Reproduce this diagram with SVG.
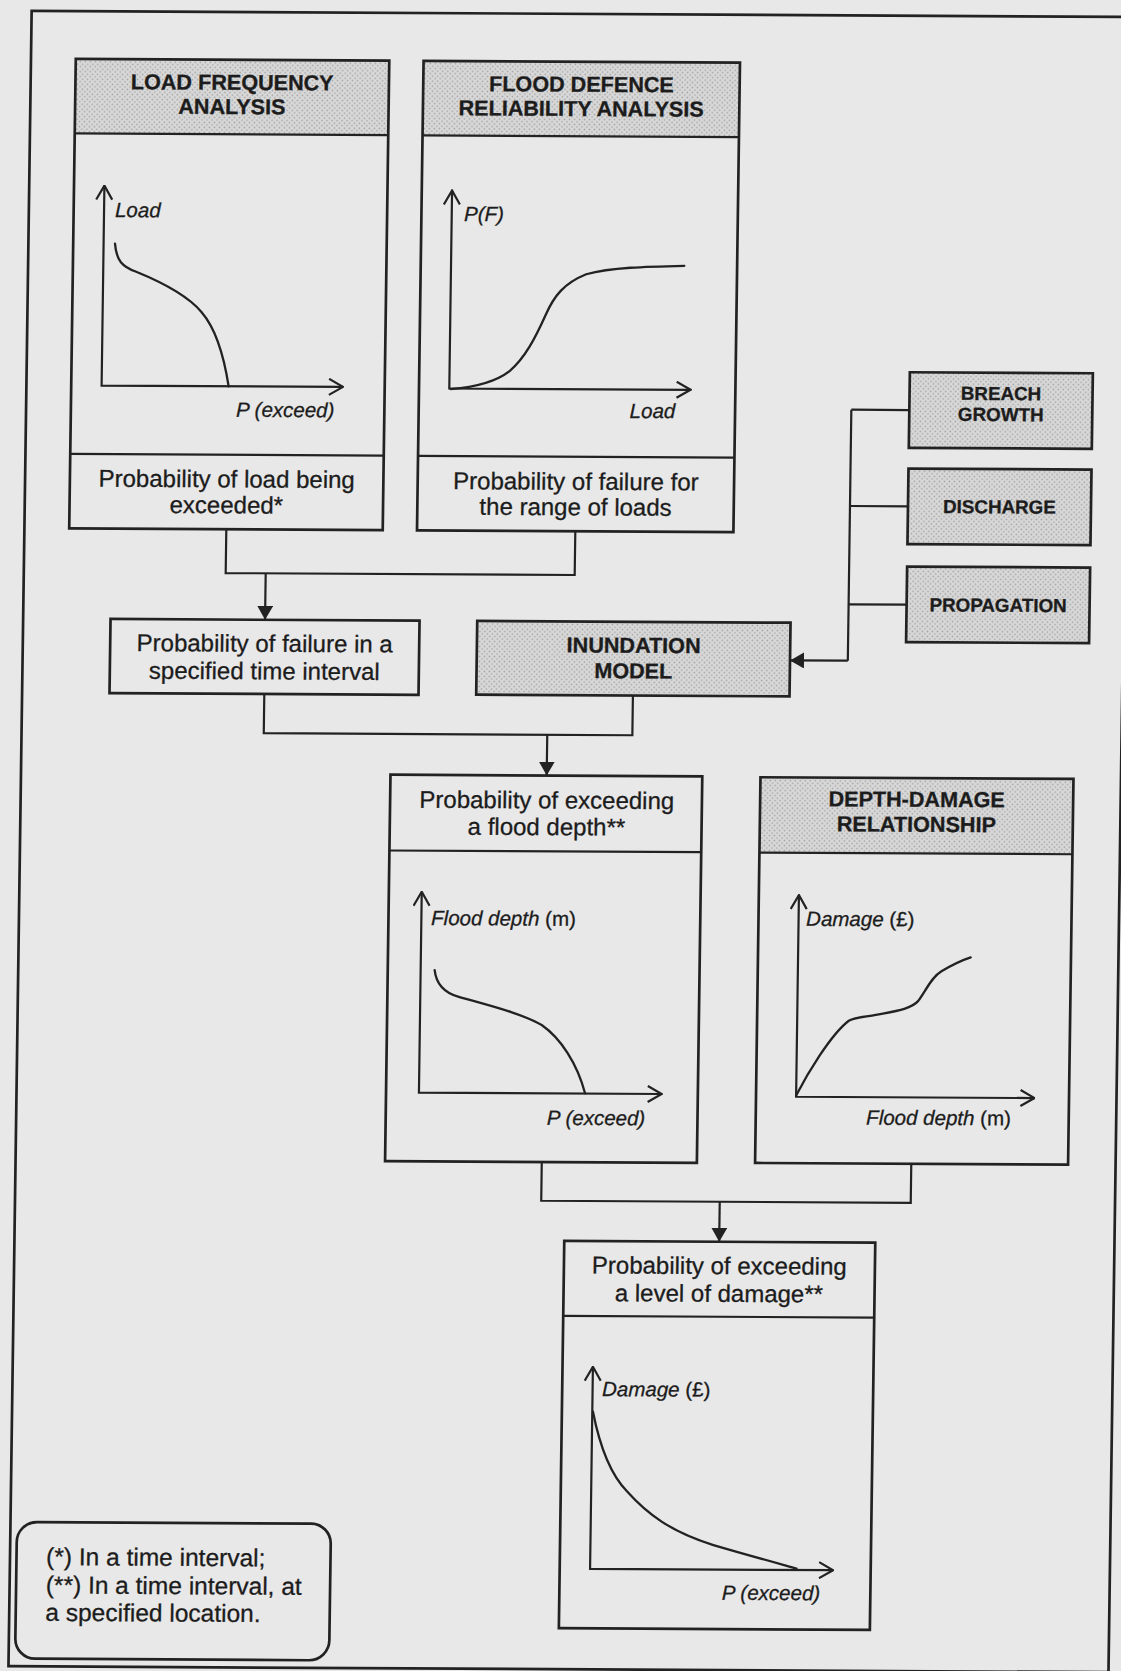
<svg xmlns="http://www.w3.org/2000/svg" width="1121" height="1671" viewBox="0 0 1121 1671">
  <defs>
    <style>
      .box { fill: none; stroke: #222; stroke-width: 2.7; }
      .hdr { fill: url(#stipple); stroke: none; }
      .ln { fill: none; stroke: #222; stroke-width: 2.2; }
      .crv { fill: none; stroke: #222; stroke-width: 2.3; stroke-linecap: round; }
      .t { font-family: "Liberation Sans", Arial, sans-serif; fill: #1c1c1c; stroke: #1c1c1c; stroke-width: 0.3; }
      .h { font-weight: bold; font-size: 21.6px; text-anchor: middle; }
      .s { font-weight: bold; font-size: 18.8px; text-anchor: middle; }
      .b { font-size: 24px; text-anchor: middle; }
      .lg { font-size: 24.5px; }
      .ax { font-style: italic; font-size: 20.5px; }
      .up { font-style: normal; }
    </style>
    <!-- dotted screen used for the shaded model headers -->
    <pattern id="stipple" width="5" height="5" patternUnits="userSpaceOnUse">
      <rect width="5" height="5" fill="#d8d8d8"/>
      <circle cx="1.2" cy="1.2" r="0.8" fill="#a2a2a2"/>
      <circle cx="3.7" cy="3.7" r="0.8" fill="#a2a2a2"/>
    </pattern>
    <!-- open arrowhead for graph axes -->
    <marker id="vee" viewBox="0 0 16 18" refX="15" refY="9" markerWidth="16" markerHeight="18" markerUnits="userSpaceOnUse" orient="auto-start-reverse">
      <path d="M1,1 L15,9 L1,17" fill="none" stroke="#222" stroke-width="2.2"/>
    </marker>
    <!-- solid arrowhead for flow connectors -->
    <marker id="tri" viewBox="0 0 14 16" refX="14" refY="8" markerWidth="14" markerHeight="16" markerUnits="userSpaceOnUse" orient="auto">
      <path d="M0,0 L14,8 L0,16 z" fill="#222"/>
    </marker>
  </defs>

  <rect width="1121" height="1671" fill="#e8e8e8"/>

  <g transform="matrix(1,0.0055,-0.014,1,0,0)">
    <!-- page frame -->
    <rect id="frame" class="box" x="31.8" y="10.7" width="1100" height="1655.3"/>

    <g id="connectors">
      <path class="ln" d="M233.7,528 L233.7,571.8 L582.7,571.8 L582.7,528"/>
      <path class="ln" d="M273.7,571.8 L273.7,618.3" marker-end="url(#tri)"/>
      <path class="ln" d="M857,405 L857,656"/>
      <path class="ln" d="M857,405 L915,405 M857,501.3 L915,501.3 M857,599.6 L915,599.6"/>
      <path class="ln" d="M857,656 L799.2,656" marker-end="url(#tri)"/>
      <path class="ln" d="M274,692.5 L274,731.7 L642.6,731.7 L642.6,692"/>
      <path class="ln" d="M557.5,731.7 L557.5,772.5" marker-end="url(#tri)"/>
      <path class="ln" d="M558,1159 L558,1197.7 L927.5,1197.7 L927.5,1158.7"/>
      <path class="ln" d="M736.5,1197.7 L736.5,1237.7" marker-end="url(#tri)"/>
    </g>

    <g id="load-frequency">
      <rect class="hdr" x="76.6" y="58.5" width="313.5" height="74.5"/>
      <rect class="box" x="76.6" y="58.5" width="313.5" height="469.5"/>
      <path class="ln" d="M76.6,133 L390.1,133 M76.6,453.5 L390.1,453.5" stroke-width="2.6"/>
      <text class="t h" x="233.4" y="88.5">LOAD FREQUENCY</text>
      <text class="t h" x="233.4" y="112.8">ANALYSIS</text>
      <path class="ln" d="M107,185 L107,385 L348.4,385" marker-start="url(#vee)" marker-end="url(#vee)"/>
      <path class="crv" d="M118.4,243 C120,260 126,266 140,271 C170,283 193,296 206,311 C220,327 229,355 234,385"/>
      <text class="t ax" x="118" y="216.4">Load</text>
      <text class="t ax" x="241.8" y="415.4">P (exceed)</text>
      <text class="t b" x="233.4" y="486">Probability of load being</text>
      <text class="t b" x="233.4" y="512">exceeded*</text>
    </g>

    <g id="defence-reliability">
      <rect class="hdr" x="424.4" y="58.5" width="316.4" height="74.5"/>
      <rect class="box" x="424.4" y="58.5" width="316.4" height="469.5"/>
      <path class="ln" d="M424.4,133 L740.8,133 M424.4,453.5 L740.8,453.5" stroke-width="2.6"/>
      <text class="t h" x="582.6" y="88.5">FLOOD DEFENCE</text>
      <text class="t h" x="582.6" y="112.8">RELIABILITY ANALYSIS</text>
      <path class="ln" d="M454.7,188 L454.7,386 L696,386" marker-start="url(#vee)" marker-end="url(#vee)"/>
      <path class="crv" d="M456,386.5 C480,384.5 500,380 515,368 C530,355 540,335 550,312 C558,293 568,280 590,271 C615,264 650,263 688,262"/>
      <text class="t ax" x="467.1" y="218.4">P(F)</text>
      <text class="t ax" x="681" y="414.4" text-anchor="end">Load</text>
      <text class="t b" x="582.6" y="486.5">Probability of failure for</text>
      <text class="t b" x="582.6" y="512">the range of loads</text>
    </g>

    <g id="breach-growth">
      <rect class="hdr" x="915" y="367.2" width="183" height="75.6"/>
      <rect class="box" x="915" y="367.2" width="183" height="75.6"/>
      <text class="t s" x="1006.5" y="394.5">BREACH</text>
      <text class="t s" x="1006.5" y="415.5">GROWTH</text>
    </g>

    <g id="discharge">
      <rect class="hdr" x="915" y="463.5" width="183" height="75.6"/>
      <rect class="box" x="915" y="463.5" width="183" height="75.6"/>
      <text class="t s" x="1006.5" y="507.8">DISCHARGE</text>
    </g>

    <g id="propagation">
      <rect class="hdr" x="915" y="561.5" width="183" height="75.6"/>
      <rect class="box" x="915" y="561.5" width="183" height="75.6"/>
      <text class="t s" x="1006.5" y="606.2">PROPAGATION</text>
    </g>

    <g id="failure-in-interval">
      <rect class="box" x="119.2" y="618.3" width="309" height="74.2"/>
      <text class="t b" x="273.7" y="650.2">Probability of failure in a</text>
      <text class="t b" x="273.7" y="677.8">specified time interval</text>
    </g>

    <g id="inundation-model">
      <rect class="hdr" x="485.9" y="618.3" width="313.3" height="73.7"/>
      <rect class="box" x="485.9" y="618.3" width="313.3" height="73.7"/>
      <text class="t h" x="642.6" y="649.2">INUNDATION</text>
      <text class="t h" x="642.6" y="674.8">MODEL</text>
    </g>

    <g id="flood-depth-exceedance">
      <rect class="box" x="401.3" y="772.5" width="311.8" height="386.5"/>
      <path class="ln" d="M401.3,848.3 L713.1,848.3" stroke-width="2.6"/>
      <text class="t b" x="558" y="805.3">Probability of exceeding</text>
      <text class="t b" x="558" y="832">a flood depth**</text>
      <path class="ln" d="M434.2,889.4 L434.2,1090.3 L677,1090.3" marker-start="url(#vee)" marker-end="url(#vee)"/>
      <path class="crv" d="M448.2,967.6 C450,982 458,990 472,994 C500,1002 535,1010 556,1022 C575,1035 592,1060 600.3,1090"/>
      <text class="t ax" x="444" y="922.6">Flood depth <tspan class="up">(m)</tspan></text>
      <text class="t ax" x="562.5" y="1121.7">P (exceed)</text>
    </g>

    <g id="depth-damage">
      <rect class="hdr" x="771.3" y="773" width="313" height="75.3"/>
      <rect class="box" x="771.3" y="773" width="313" height="385.7"/>
      <path class="ln" d="M771.3,848.3 L1084.3,848.3" stroke-width="2.6"/>
      <text class="t h" x="927.8" y="801.7">DEPTH-DAMAGE</text>
      <text class="t h" x="927.8" y="826.7">RELATIONSHIP</text>
      <path class="ln" d="M811.4,890.6 L811.4,1092.3 L1049.8,1092.3" marker-start="url(#vee)" marker-end="url(#vee)"/>
      <path class="crv" d="M811.4,1091 C822,1070 845,1030 863,1016 C870,1012 880,1012 890,1010 C910,1006 925,1004 932,996 C940,985 945,972 955,966 C965,960 975,955 984,952"/>
      <text class="t ax" x="819" y="921.3">Damage <tspan class="up">(£)</tspan></text>
      <text class="t ax" x="881.8" y="1119.7">Flood depth <tspan class="up">(m)</tspan></text>
    </g>

    <g id="damage-exceedance">
      <rect class="box" x="581.6" y="1237.7" width="311" height="387.3"/>
      <path class="ln" d="M581.6,1312.7 L892.6,1312.7" stroke-width="2.6"/>
      <text class="t b" x="737" y="1270">Probability of exceeding</text>
      <text class="t b" x="737" y="1297.7">a level of damage**</text>
      <path class="ln" d="M612,1363.4 L612,1565.5 L855,1565.5" marker-start="url(#vee)" marker-end="url(#vee)"/>
      <path class="crv" d="M612.7,1408.4 C621,1448 632,1472 648,1488 C668,1510 692,1528 735,1541 C770,1551 800,1559 818.4,1564"/>
      <text class="t ax" x="621.5" y="1392.7">Damage <tspan class="up">(£)</tspan></text>
      <text class="t ax" x="744.1" y="1595.6">P (exceed)</text>
    </g>

    <g id="legend">
      <rect class="box" x="38.3" y="1521.8" width="314" height="136.6" rx="20" ry="20"/>
      <text class="t lg" x="68" y="1564.7">(*) In a time interval;</text>
      <text class="t lg" x="68" y="1593">(**) In a time interval, at</text>
      <text class="t lg" x="68" y="1620.4">a specified location.</text>
    </g>
  </g>
</svg>
